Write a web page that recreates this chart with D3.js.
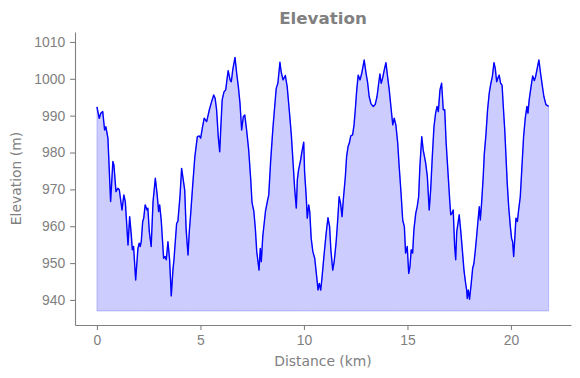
<!DOCTYPE html>
<head>
    <meta charset="utf-8">
</head>

<style type="text/css">
    body {
        margin: 0;
        background: #fff;
    }
    svg {
        display: block;
        font-family: "DejaVu Sans", sans-serif;
    }
    .axis path.domain {
        stroke: #808080;
        stroke-width: 1.1;
    }
    .axis line {
        stroke: #808080;
        stroke-width: 1.1;
    }
    .axis text {
        fill: #808080;
        font-size: 13.9px;
    }
    .label {
        fill: #808080;
        font-size: 13.9px;
    }
    .title {
        fill: #808080;
        font-size: 16.7px;
        font-weight: bold;
    }
    .elev-area {
        fill: rgba(0, 0, 255, 0.2);
        stroke: rgba(0, 0, 255, 0.2);
        stroke-width: 1;
    }
    .elev-line {
        fill: none;
        stroke: #0000ff;
        stroke-width: 1.4;
        stroke-linejoin: round;
    }
</style>

<body>
</body>

<script src="https://d3js.org/d3.v7.min.js"></script>

<script>

// values
var distanceKm = [
    0.00, 0.11, 0.19, 0.28, 0.37, 0.43, 0.53, 0.66, 0.77, 0.82, 0.92, 1.01, 1.08, 1.21, 1.30, 1.37,
    1.50, 1.58, 1.66, 1.71, 1.77, 1.87, 1.98, 2.04, 2.09, 2.14, 2.21, 2.26, 2.33, 2.42, 2.46, 2.53,
    2.62, 2.71, 2.82, 2.91, 2.98, 3.03, 3.11, 3.22, 3.29, 3.35, 3.43, 3.51, 3.59, 3.67, 3.72, 3.85,
    3.91, 4.01, 4.09, 4.17, 4.24, 4.31, 4.40, 4.46, 4.53, 4.62, 4.73, 4.85, 4.94, 5.01, 5.09, 5.18,
    5.30, 5.43, 5.54, 5.64, 5.71, 5.78, 5.86, 5.93, 5.99, 6.05, 6.14, 6.22, 6.29, 6.34, 6.43, 6.49,
    6.56, 6.67, 6.75, 6.83, 6.91, 6.99, 7.07, 7.14, 7.23, 7.33, 7.43, 7.49, 7.58, 7.65, 7.72, 7.78,
    7.83, 7.89, 7.94, 8.01, 8.14, 8.23, 8.30, 8.39, 8.50, 8.58, 8.66, 8.74, 8.84, 8.90, 8.99, 9.10,
    9.19, 9.31, 9.39, 9.47, 9.55, 9.63, 9.68, 9.74, 9.84, 9.90, 9.99, 10.03, 10.11, 10.16, 10.23, 10.28,
    10.35, 10.43, 10.52, 10.59, 10.68, 10.74, 10.81, 10.87, 10.97, 11.08, 11.16, 11.24, 11.30, 11.39, 11.46, 11.55,
    11.63, 11.70, 11.77, 11.84, 11.90, 12.00, 12.06, 12.13, 12.19, 12.26, 12.35, 12.42, 12.48, 12.55, 12.62, 12.71,
    12.79, 12.91, 13.00, 13.08, 13.15, 13.24, 13.35, 13.44, 13.53, 13.61, 13.67, 13.73, 13.80, 13.88, 13.96, 14.04,
    14.12, 14.20, 14.29, 14.36, 14.44, 14.53, 14.60, 14.69, 14.77, 14.85, 14.91, 14.99, 15.06, 15.12, 15.18, 15.25,
    15.31, 15.40, 15.47, 15.54, 15.60, 15.69, 15.76, 15.88, 15.96, 16.05, 16.12, 16.20, 16.28, 16.36, 16.43, 16.49,
    16.57, 16.65, 16.73, 16.80, 16.87, 16.96, 17.04, 17.09, 17.15, 17.21, 17.28, 17.33, 17.38, 17.44, 17.50, 17.57,
    17.65, 17.73, 17.81, 17.86, 17.89, 17.94, 18.00, 18.08, 18.15, 18.21, 18.28, 18.34, 18.41, 18.47, 18.52, 18.58,
    18.66, 18.71, 18.79, 18.87, 18.95, 19.03, 19.10, 19.18, 19.24, 19.31, 19.37, 19.43, 19.50, 19.57, 19.63, 19.70,
    19.76, 19.82, 19.89, 19.97, 20.03, 20.08, 20.13, 20.18, 20.24, 20.31, 20.37, 20.45, 20.53, 20.61, 20.69, 20.77,
    20.82, 20.88, 20.97, 21.05, 21.13, 21.19, 21.27, 21.35, 21.43, 21.51, 21.59, 21.69, 21.82
];

var elevationM = [
    992.4, 989.3, 990.7, 991.1, 986.1, 987.0, 983.9, 966.7, 977.6, 976.6, 969.4, 970.3, 969.9, 964.4, 968.5, 966.7,
    954.9, 962.6, 957.6, 953.6, 954.5, 945.4, 954.0, 955.4, 954.5, 955.8, 961.3, 962.2, 965.8, 964.4, 964.9, 958.5,
    954.5, 966.7, 973.0, 968.5, 964.0, 965.8, 961.3, 951.3, 951.8, 950.9, 955.8, 950.9, 941.1, 948.1, 950.9, 960.8,
    961.3, 968.0, 975.7, 972.6, 969.8, 959.0, 952.2, 958.5, 963.5, 970.7, 978.9, 984.3, 984.5, 983.9, 986.6, 989.3,
    988.4, 991.6, 993.8, 995.6, 994.7, 991.6, 984.3, 980.2, 987.5, 994.3, 996.5, 997.0, 1000.2, 1002.2, 999.7, 999.2,
    1002.4, 1005.8, 1001.5, 997.9, 993.4, 986.1, 989.7, 990.2, 986.1, 980.7, 972.6, 966.5, 964.0, 959.5, 953.1, 950.4,
    948.1, 954.0, 950.4, 957.2, 964.0, 966.7, 968.5, 977.6, 986.6, 992.0, 997.4, 998.8, 1004.5, 1001.9, 999.7, 1000.9,
    997.9, 990.2, 984.8, 977.6, 970.3, 964.9, 972.6, 975.3, 978.0, 980.2, 982.8, 974.8, 968.0, 962.2, 965.8, 964.0,
    956.7, 953.1, 951.3, 947.7, 942.7, 944.5, 942.7, 945.9, 952.2, 958.5, 962.3, 959.9, 953.6, 948.1, 950.4, 955.4,
    961.7, 968.0, 966.2, 962.6, 967.1, 973.5, 978.9, 981.6, 982.5, 984.5, 984.8, 987.5, 991.6, 997.0, 1001.0, 999.7,
    1001.5, 1005.1, 1001.5, 998.8, 995.2, 993.2, 992.5, 993.0, 995.2, 998.8, 1001.3, 998.8, 1000.2, 1002.4, 1004.4, 1000.6,
    997.0, 992.5, 987.5, 989.3, 987.5, 982.5, 976.2, 969.0, 961.7, 959.9, 952.7, 954.5, 947.2, 949.0, 953.6, 952.7,
    959.0, 963.5, 965.3, 968.0, 976.2, 984.3, 980.7, 977.1, 973.5, 964.4, 969.8, 978.9, 987.0, 990.7, 992.5, 991.1,
    997.0, 998.8, 991.6, 991.6, 982.5, 974.4, 967.1, 963.1, 963.5, 964.4, 954.5, 950.9, 958.5, 960.8, 963.1, 959.0,
    953.6, 948.1, 944.5, 942.7, 940.4, 942.7, 940.2, 944.5, 948.6, 949.9, 953.6, 957.2, 961.7, 965.3, 961.7, 966.2,
    973.5, 979.5, 984.8, 991.6, 996.1, 998.8, 1000.6, 1004.4, 1002.9, 999.2, 1000.2, 1001.0, 998.8, 998.3, 992.5, 986.1,
    978.9, 971.7, 965.3, 959.9, 956.7, 955.8, 951.8, 956.3, 962.2, 961.3, 964.4, 968.0, 976.2, 984.3, 989.3, 992.5,
    990.7, 994.3, 997.9, 1000.8, 999.5, 1000.6, 1002.9, 1005.1, 1001.5, 998.3, 995.2, 993.0, 992.5
];

var xTicks = [0, 5, 10, 15, 20];
var yTicks = [940, 950, 960, 970, 980, 990, 1000, 1010];
var fillBase = 937;

var titleText = "Elevation";
var xLabelText = "Distance (km)";
var yLabelText = "Elevation (m)";

var W = 580, H = 378;
var margin = {top: 32, right: 9, bottom: 53, left: 75};
var w = W - margin.left - margin.right,
    h = H - margin.top - margin.bottom;

var data = distanceKm.map(function(d, i) {
    return {dist: d, elev: elevationM[i]};
});

var svg = d3.select("body").append("svg")
    .attr("width", W)
    .attr("height", H);

var g = svg.append("g")
    .attr("transform", "translate(" + margin.left + "," + margin.top + ")");

var xscale = d3.scaleLinear()
    .domain([-1.06, 22.9])
    .range([0, w]);

var yscale = d3.scaleLinear()
    .domain([933.2, 1012.7])
    .range([h, 0]);

var area = d3.area()
    .x(function(d) { return xscale(d.dist); })
    .y0(yscale(fillBase))
    .y1(function(d) { return yscale(d.elev); });

var line = d3.line()
    .x(function(d) { return xscale(d.dist); })
    .y(function(d) { return yscale(d.elev); });

g.append("path")
    .attr("class", "elev-area")
    .attr("d", area(data));

g.append("path")
    .attr("class", "elev-line")
    .attr("d", line(data));

var xAxis = d3.axisBottom(xscale)
    .tickValues(xTicks)
    .tickFormat(d3.format("d"))
    .tickSize(4.9)
    .tickPadding(4.9)
    .tickSizeOuter(0);

var yAxis = d3.axisLeft(yscale)
    .tickValues(yTicks)
    .tickFormat(d3.format("d"))
    .tickSize(4.9)
    .tickPadding(4.9)
    .tickSizeOuter(0);

g.append("g")
    .attr("class", "x axis")
    .attr("transform", "translate(0," + h + ")")
    .call(xAxis);

g.append("g")
    .attr("class", "y axis")
    .call(yAxis);

// titles
svg.append("text")
    .attr("class", "title")
    .attr("x", margin.left + w / 2)
    .attr("y", 24)
    .attr("text-anchor", "middle")
    .text(titleText);

svg.append("text")
    .attr("class", "label")
    .attr("x", margin.left + w / 2)
    .attr("y", 366)
    .attr("text-anchor", "middle")
    .text(xLabelText);

svg.append("text")
    .attr("class", "label")
    .attr("transform", "translate(21," + (margin.top + h / 2) + ") rotate(-90)")
    .attr("text-anchor", "middle")
    .text(yLabelText);

</script>
